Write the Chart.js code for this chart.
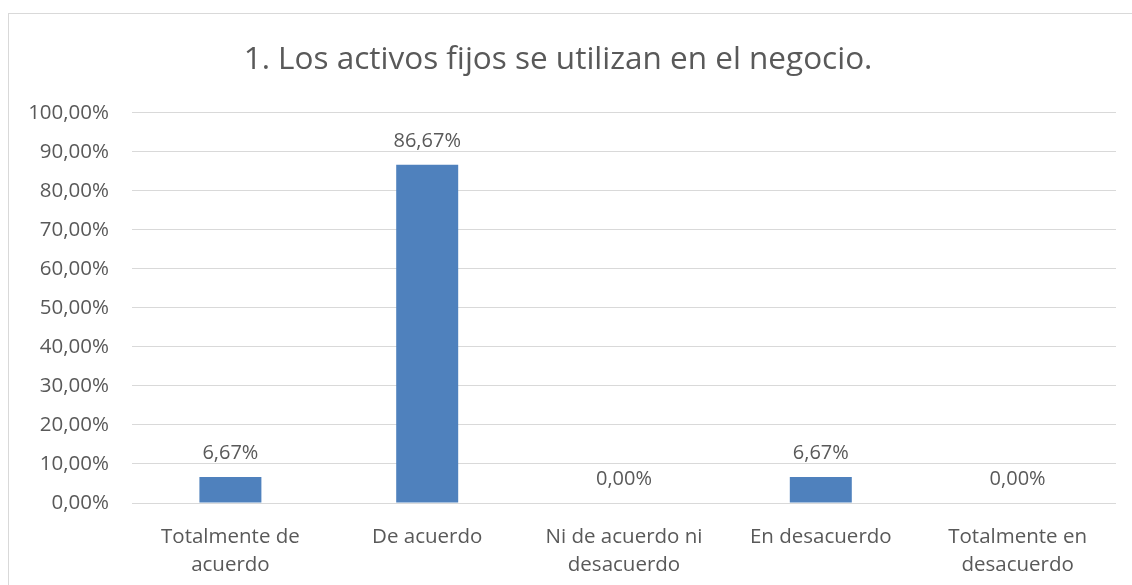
<!DOCTYPE html>
<html>
<head>
<meta charset="utf-8">
<script src="https://cdn.jsdelivr.net/npm/chart.js@4.4.1/dist/chart.umd.min.js"></script>
<style>
  body { margin: 0; background: #fff; }
  canvas { display: block; }
</style>
</head>
<body>
<canvas id="chart" width="1132" height="585"></canvas>
<script>
// data
const categories = [
  ['Totalmente de', 'acuerdo'],
  'De acuerdo',
  ['Ni de acuerdo ni', 'desacuerdo'],
  'En desacuerdo',
  ['Totalmente en', 'desacuerdo']
];
const percentages = [6.67, 86.67, 0, 6.67, 0];
const chartTitle = '1. Los activos fijos se utilizan en el negocio.';

const textColor = '#595959';
const fontFamily = '"Open Sans", sans-serif';

function fmtPct(v) {
  return v.toFixed(2).replace('.', ',') + '%';
}

// frame round the chart, like the office chart border
const framePlugin = {
  id: 'frame',
  beforeDraw(chart) {
    const ctx = chart.ctx;
    ctx.save();
    ctx.fillStyle = '#fff';
    ctx.fillRect(0, 0, chart.width, chart.height);
    ctx.strokeStyle = '#d9d9d9';
    ctx.lineWidth = 1;
    ctx.strokeRect(8.5, 13.5, 1400, 800);
    ctx.restore();
  }
};

// value labels above the bars
const valueLabels = {
  id: 'valueLabels',
  afterDatasetsDraw(chart) {
    const ctx = chart.ctx;
    const meta = chart.getDatasetMeta(0);
    ctx.save();
    ctx.fillStyle = textColor;
    ctx.font = '20px ' + fontFamily;
    ctx.textAlign = 'center';
    ctx.textBaseline = 'middle';
    meta.data.forEach((bar, i) => {
      ctx.fillText(fmtPct(percentages[i]), bar.x, bar.y - 24);
    });
    ctx.restore();
  }
};

new Chart(document.getElementById('chart'), {
  type: 'bar',
  data: {
    labels: categories,
    datasets: [{
      data: percentages,
      backgroundColor: '#4f81bd',
      borderWidth: 0,
      categoryPercentage: 1,
      barPercentage: 0.315
    }]
  },
  options: {
    responsive: false,
    animation: false,
    layout: { padding: { left: 0, right: 16, top: 0, bottom: 0 } },
    plugins: {
      legend: { display: false },
      tooltip: { enabled: false },
      title: {
        display: true,
        text: chartTitle,
        color: textColor,
        font: { family: fontFamily, size: 31.5, weight: 'normal' },
        padding: { top: 41, bottom: 34 }
      }
    },
    scales: {
      x: {
        grid: { display: false, drawTicks: false },
        border: { display: false },
        ticks: {
          color: textColor,
          font: { family: fontFamily, size: 20.5, lineHeight: 1.37 },
          padding: 20,
          maxRotation: 0,
          autoSkip: false
        },
        afterFit(scale) { scale.height = 82; }
      },
      y: {
        min: 0,
        max: 100,
        grid: { color: '#d9d9d9', lineWidth: 1, drawTicks: false },
        border: { display: false },
        ticks: {
          stepSize: 10,
          color: textColor,
          font: { family: fontFamily, size: 20.5 },
          padding: 23,
          callback: (v) => fmtPct(v)
        },
        afterFit(scale) { scale.width = 132; }
      }
    }
  },
  plugins: [framePlugin, valueLabels]
});
</script>
</body>
</html>
